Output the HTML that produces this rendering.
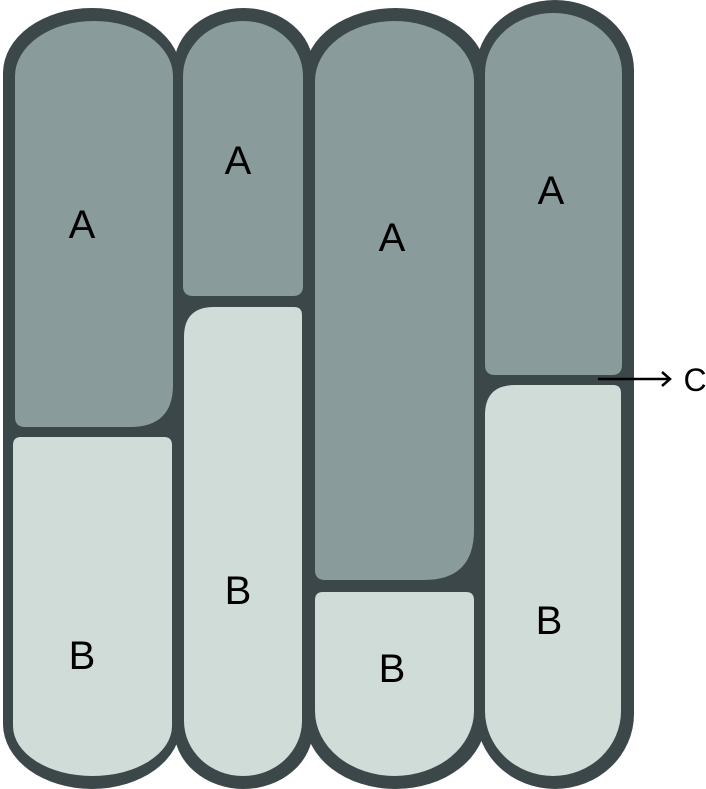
<!DOCTYPE html>
<html><head><style>html,body{margin:0;padding:0;background:#fff}svg{display:block}
text{font-family:"Liberation Sans","DejaVu Sans",sans-serif;font-size:40px;fill:#000;text-anchor:middle}</style></head>
<body>
<svg width="706" height="789" viewBox="0 0 706 789" xmlns="http://www.w3.org/2000/svg">
<g fill="#3b4749">
<path d="M3 73 A89 65 0 0 1 181 73 V724 A89 65 0 0 1 3 724Z"/>
<path d="M174 66 A69.5 58 0 0 1 313 66 V729 A69.5 60 0 0 1 174 729Z"/>
<path d="M305 73 A90.5 65 0 0 1 486 73 V719 A90.5 70 0 0 1 305 719Z"/>
<path d="M476 70 A79 70 0 0 1 634 70 V714 A79 75 0 0 1 476 714Z"/>
<rect x="100" y="120" width="480" height="580"/>
</g>
<g fill="#899b9a">
<path d="M15 76 A79 55 0 0 1 173 76 V385 Q173 427 130 427 H25 Q15 427 15 417Z"/>
<path d="M183 76 A60 55 0 0 1 303 76 V286 Q303 296 293 296 H193 Q183 296 183 286Z"/>
<path d="M315 81 A79.5 60 0 0 1 474 81 V530 Q474 580 424 580 H325 Q315 580 315 570Z"/>
<path d="M485 73 A68.5 60 0 0 1 622 73 V365 Q622 375 612 375 H495 Q485 375 485 365Z"/>
</g>
<g fill="#cfdcd8">
<path d="M13 445 Q13 437 21 437 H164 Q172 437 172 445 V726 A79.5 50 0 0 1 13 726Z"/>
<path d="M184 337 Q184 307 214 307 H294 Q302 307 302 315 V721 A59 55 0 0 1 184 721Z"/>
<path d="M315 600 Q315 592 323 592 H466 Q474 592 474 600 V711 A79.5 65 0 0 1 315 711Z"/>
<path d="M485 415 Q485 385 515 385 H613 Q621 385 621 393 V711 A68 65 0 0 1 485 711Z"/>
</g>
<line x1="598" y1="379" x2="668" y2="379" stroke="#000" stroke-width="2.5"/>
<path d="M662 372 L670 379 L662 386" fill="none" stroke="#000" stroke-width="2.5"/>
<text x="695" y="391" style="font-size:32px">C</text>
<text x="82" y="238">A</text>
<text x="238" y="174">A</text>
<text x="392" y="251">A</text>
<text x="551" y="204">A</text>
<text x="82" y="669">B</text>
<text x="238" y="604">B</text>
<text x="392" y="682">B</text>
<text x="549" y="634">B</text>
</svg>
</body></html>
